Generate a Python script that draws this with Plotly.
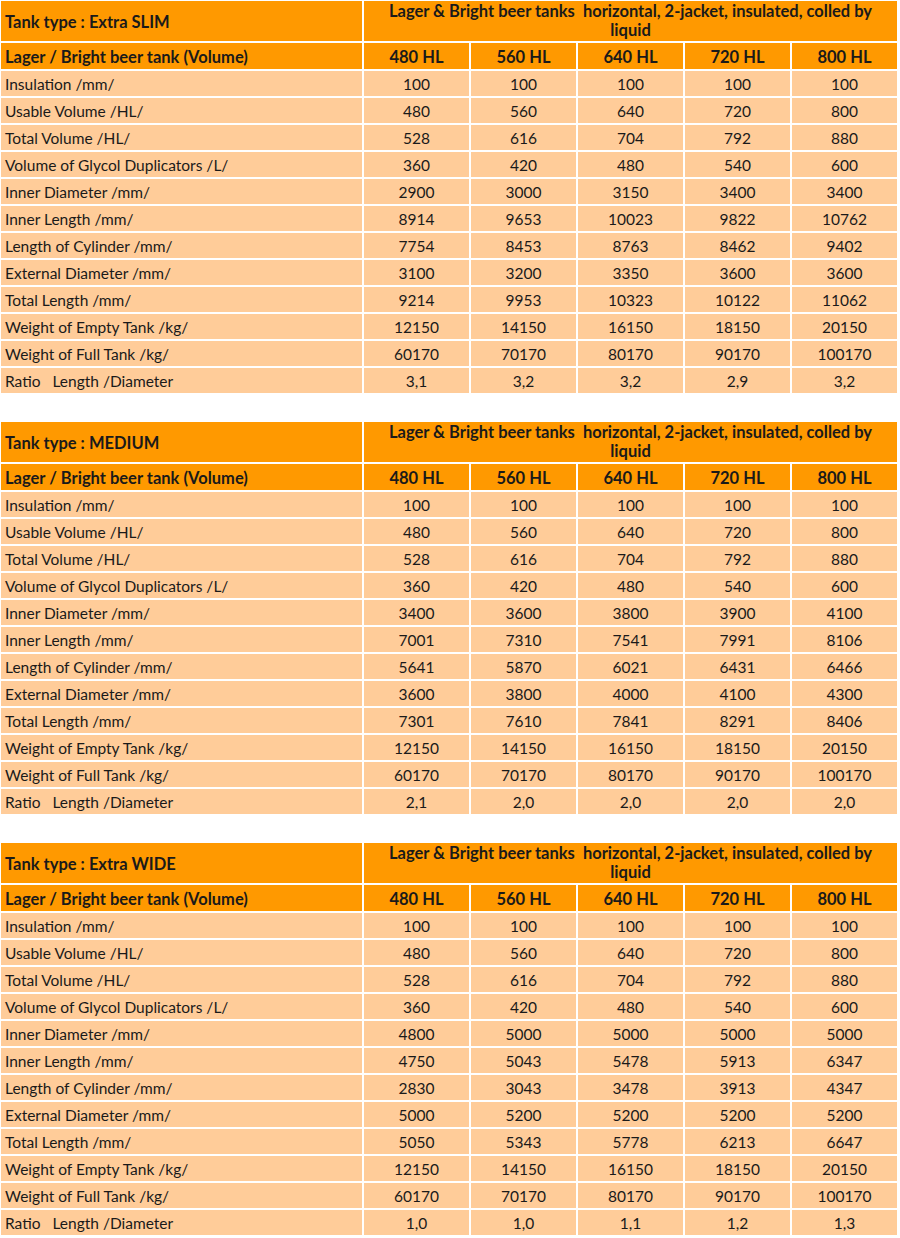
import plotly.graph_objects as go

HEAD_ORANGE = "#FF9900"
CELL_PEACH = "#FFCC99"
TEXT_COLOR = "#1a1a1a"
FONT = "Lato"
BOLD_SIZE = 16.5
REGULAR_SIZE = 15.5

TANK_TYPES = ["Extra SLIM", "MEDIUM", "Extra WIDE"]
TITLE_LINES = [
    "Lager & Bright beer tanks\u00a0 horizontal, 2-jacket, insulated, colled by",
    "liquid",
]
VOLUME_LABEL = "Lager / Bright beer tank (Volume)"
VOLUMES = ["480 HL", "560 HL", "640 HL", "720 HL", "800 HL"]

ROW_LABELS = [
    "Insulation /mm/",
    "Usable Volume /HL/",
    "Total Volume /HL/",
    "Volume of Glycol Duplicators /L/",
    "Inner Diameter /mm/",
    "Inner Length /mm/",
    "Length of Cylinder /mm/",
    "External Diameter /mm/",
    "Total Length /mm/",
    "Weight of Empty Tank /kg/",
    "Weight of Full Tank /kg/",
    "Ratio\u00a0\u00a0 Length /Diameter",
]

# rows shared by all three tank types
insulation = [100, 100, 100, 100, 100]
usable_volume = [480, 560, 640, 720, 800]
total_volume = [528, 616, 704, 792, 880]
glycol_volume = [360, 420, 480, 540, 600]
weight_empty = [12150, 14150, 16150, 18150, 20150]
weight_full = [60170, 70170, 80170, 90170, 100170]

# Extra SLIM
slim_inner_diameter = [2900, 3000, 3150, 3400, 3400]
slim_inner_length = [8914, 9653, 10023, 9822, 10762]
slim_cylinder_length = [7754, 8453, 8763, 8462, 9402]
slim_external_diameter = [3100, 3200, 3350, 3600, 3600]
slim_total_length = [9214, 9953, 10323, 10122, 11062]
slim_ratio = ["3,1", "3,2", "3,2", "2,9", "3,2"]

# MEDIUM
medium_inner_diameter = [3400, 3600, 3800, 3900, 4100]
medium_inner_length = [7001, 7310, 7541, 7991, 8106]
medium_cylinder_length = [5641, 5870, 6021, 6431, 6466]
medium_external_diameter = [3600, 3800, 4000, 4100, 4300]
medium_total_length = [7301, 7610, 7841, 8291, 8406]
medium_ratio = ["2,1", "2,0", "2,0", "2,0", "2,0"]

# Extra WIDE
wide_inner_diameter = [4800, 5000, 5000, 5000, 5000]
wide_inner_length = [4750, 5043, 5478, 5913, 6347]
wide_cylinder_length = [2830, 3043, 3478, 3913, 4347]
wide_external_diameter = [5000, 5200, 5200, 5200, 5200]
wide_total_length = [5050, 5343, 5778, 6213, 6647]
wide_ratio = ["1,0", "1,0", "1,1", "1,2", "1,3"]

TABLES = [
    [slim_inner_diameter, slim_inner_length, slim_cylinder_length,
     slim_external_diameter, slim_total_length, slim_ratio],
    [medium_inner_diameter, medium_inner_length, medium_cylinder_length,
     medium_external_diameter, medium_total_length, medium_ratio],
    [wide_inner_diameter, wide_inner_length, wide_cylinder_length,
     wide_external_diameter, wide_total_length, wide_ratio],
]

# layout in pixels (axes run 0..900 and 0..1238)
W, H = 900, 1238
COL_W = [363, 107, 107, 107, 107, 107]
TOP_ROW_H = 42
HEAD_H = 28
ROW_H = 27
BLOCK_STEP = 421
TEXT_PAD = 5
TEXT_DY = 2.5  # plotly's "middle" sits a bit high
TITLE_LINE_Y = [10, 29]


def edges(start, sizes):
    out = [start]
    for s in sizes:
        out.append(out[-1] + s)
    return out


x_edges = edges(0, COL_W)
x_centers = [(a + b) / 2 for a, b in zip(x_edges[:-1], x_edges[1:])]
x_merged = [x_edges[0], x_edges[1], x_edges[-1]]
merged_center = (x_edges[1] + x_edges[-1]) / 2

colorscale = [[0, CELL_PEACH], [1, HEAD_ORANGE]]
fig = go.Figure()


def text_trace(items, size):
    xs, ys, texts, pos = zip(*items) if items else ([], [], [], [])
    return go.Scatter(
        x=list(xs), y=list(ys), text=list(texts), mode="text", textposition=list(pos),
        textfont=dict(family=FONT, size=size, color=TEXT_COLOR),
        hoverinfo="skip", showlegend=False,
    )


for i, (tank, specific) in enumerate(zip(TANK_TYPES, TABLES)):
    d_inner, d_len, d_cyl, d_ext, d_total, d_ratio = specific
    rows = [insulation, usable_volume, total_volume, glycol_volume,
            d_inner, d_len, d_cyl, d_ext, d_total, weight_empty, weight_full, d_ratio]

    top = i * BLOCK_STEP
    y_top = [top, top + TOP_ROW_H]
    y_body = edges(top + TOP_ROW_H, [HEAD_H] + [ROW_H] * len(rows))
    y_mid = [(a + b) / 2 + TEXT_DY for a, b in zip(y_body[:-1], y_body[1:])]

    # merged title row
    fig.add_trace(go.Heatmap(
        x=x_merged, y=y_top, z=[[1, 1]],
        colorscale=colorscale, zmin=0, zmax=1, showscale=False,
        xgap=2, ygap=2, hoverinfo="skip",
    ))
    # volume header + data rows
    z = [[1] * len(COL_W)] + [[0] * len(COL_W) for _ in rows]
    fig.add_trace(go.Heatmap(
        x=x_edges, y=y_body, z=z,
        colorscale=colorscale, zmin=0, zmax=1, showscale=False,
        xgap=2, ygap=2, hoverinfo="skip",
    ))

    bold, regular = [], []
    left = x_edges[0] + TEXT_PAD
    bold.append((left, sum(y_top) / 2 + TEXT_DY, f"<b>Tank type : {tank}</b>", "middle right"))
    for line, dy in zip(TITLE_LINES, TITLE_LINE_Y):
        bold.append((merged_center, top + dy + TEXT_DY, f"<b>{line}</b>", "middle center"))
    bold.append((left, y_mid[0], f"<b>{VOLUME_LABEL}</b>", "middle right"))
    for c, v in enumerate(VOLUMES):
        bold.append((x_centers[c + 1], y_mid[0], f"<b>{v}</b>", "middle center"))
    for r, (label, vals) in enumerate(zip(ROW_LABELS, rows)):
        regular.append((left, y_mid[r + 1], label, "middle right"))
        for c, v in enumerate(vals):
            regular.append((x_centers[c + 1], y_mid[r + 1], str(v), "middle center"))

    fig.add_trace(text_trace(bold, BOLD_SIZE))
    fig.add_trace(text_trace(regular, REGULAR_SIZE))

fig.update_layout(
    width=W,
    height=H,
    margin=dict(l=0, r=0, t=0, b=0),
    paper_bgcolor="white",
    plot_bgcolor="white",
    xaxis=dict(range=[0, W], visible=False, fixedrange=True),
    yaxis=dict(range=[H, 0], visible=False, fixedrange=True),
    showlegend=False,
)

fig.write_html("out.html", config={"displayModeBar": False},
               post_script="document.body.style.margin='0';")
